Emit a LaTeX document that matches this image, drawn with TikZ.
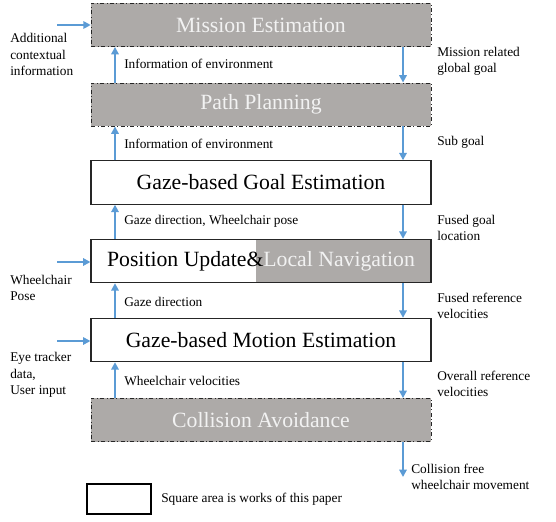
\documentclass[tikz,border=0pt]{standalone}
\usepackage{fontspec}
\setmainfont{Liberation Serif}
\usetikzlibrary{calc, arrows.meta}
\definecolor{flowblue}{RGB}{91, 155, 213}
\definecolor{boxgrey}{RGB}{173, 170, 168}
\definecolor{greytext}{RGB}{242, 242, 242}

\begin{document}
\begin{tikzpicture}[x=0.75pt, y=-0.75pt,
    stage/.style={draw=black!85, minimum width=255pt, minimum height=32.5pt, inner sep=0pt, font=\rmfamily\fontsize{16.3}{19}\selectfont},
    other/.style={stage, fill=boxgrey, dash dot, text=greytext},
    ours/.style={stage, fill=white, line width=0.8pt},
    flow/.style={-{Triangle[length=5.5pt, width=5.5pt]}, flowblue, line width=2.2pt},
    note/.style={align=left, anchor=west, inner sep=0pt, font=\rmfamily\fontsize{10}{12.2}\selectfont}]
  \useasboundingbox (0,0) rectangle (556,521);
  % stages
  \node[other] (mission) at (261,25) {Mission Estimation};
  \node[other] (path) at (261,104.5) {Path Planning};
  \node[ours] (goal) at (261,182.5) {Gaze-based Goal Estimation};
  \node[ours, path picture={\fill[boxgrey] ($(path picture bounding box.south west)!0.485!(path picture bounding box.south east)$) rectangle (path picture bounding box.north east);}] (posnav) at (261,261) {Position Update\&\textcolor{greytext}{Local Navigation}};
  \node[ours] (motion) at (261,340) {Gaze-based Motion Estimation};
  \node[other] (collide) at (261,420) {Collision Avoidance};
  \coordinate (upx) at (115,0);
  \coordinate (dnx) at (403,0);
  % feedback up, goals down
  \draw[flow] (path.north -| upx) -- (mission.south -| upx);
  \draw[flow] (goal.north -| upx) -- (path.south -| upx);
  \draw[flow] (posnav.north -| upx) -- (goal.south -| upx);
  \draw[flow] (motion.north -| upx) -- (posnav.south -| upx);
  \draw[flow] (collide.north -| upx) -- (motion.south -| upx);
  \draw[flow] (mission.south -| dnx) -- (path.north -| dnx);
  \draw[flow] (path.south -| dnx) -- (goal.north -| dnx);
  \draw[flow] (goal.south -| dnx) -- (posnav.north -| dnx);
  \draw[flow] (posnav.south -| dnx) -- (motion.north -| dnx);
  \draw[flow] (motion.south -| dnx) -- (collide.north -| dnx);
  \coordinate (move) at (403,477);
  \draw[flow] (collide.south -| dnx) -- (move);
  % inputs
  \coordinate (ctxin) at (57,25);
  \coordinate (posein) at (57,262);
  \coordinate (eyein) at (57,341);
  \draw[flow] (ctxin) -- (ctxin -| mission.west);
  \draw[flow] (posein) -- (posein -| posnav.west);
  \draw[flow] (eyein) -- (eyein -| motion.west);
  % labels
  \node[note] (ctxlbl) at (10,54.5) {Additional\\contextual\\information};
  \node[note] (poselbl) at (10,288) {Wheelchair\\Pose};
  \node[note] (eyelbl) at (10,375) {Eye tracker\\data,\\User input};
  \node[note] (envlbl1) at (124,64) {Information of environment};
  \node[note] (envlbl2) at (124,144) {Information of environment};
  \node[note] (gazelbl1) at (124,221) {Gaze direction, Wheelchair pose};
  \node[note] (gazelbl2) at (124,302) {Gaze direction};
  \node[note] (vellbl) at (124,381) {Wheelchair velocities};
  \node[note] (globallbl) at (437,61.5) {Mission related\\global goal};
  \node[note] (sublbl) at (437,142) {Sub goal};
  \node[note] (fusedlbl) at (437,228) {Fused goal\\location};
  \node[note] (reflbl) at (437,305.5) {Fused reference\\velocities};
  \node[note] (alllbl) at (437,384) {Overall reference\\velocities};
  \node[note] (movelbl) at (411,477) {Collision free\\wheelchair movement};
  % legend
  \node[draw=black, line width=1.3pt, minimum width=48pt, minimum height=23pt, inner sep=0pt] (legbox) at (119,499) {};
  \node[note] (leglbl) at (161,499) {Square area is works of this paper};
\end{tikzpicture}
\end{document}
